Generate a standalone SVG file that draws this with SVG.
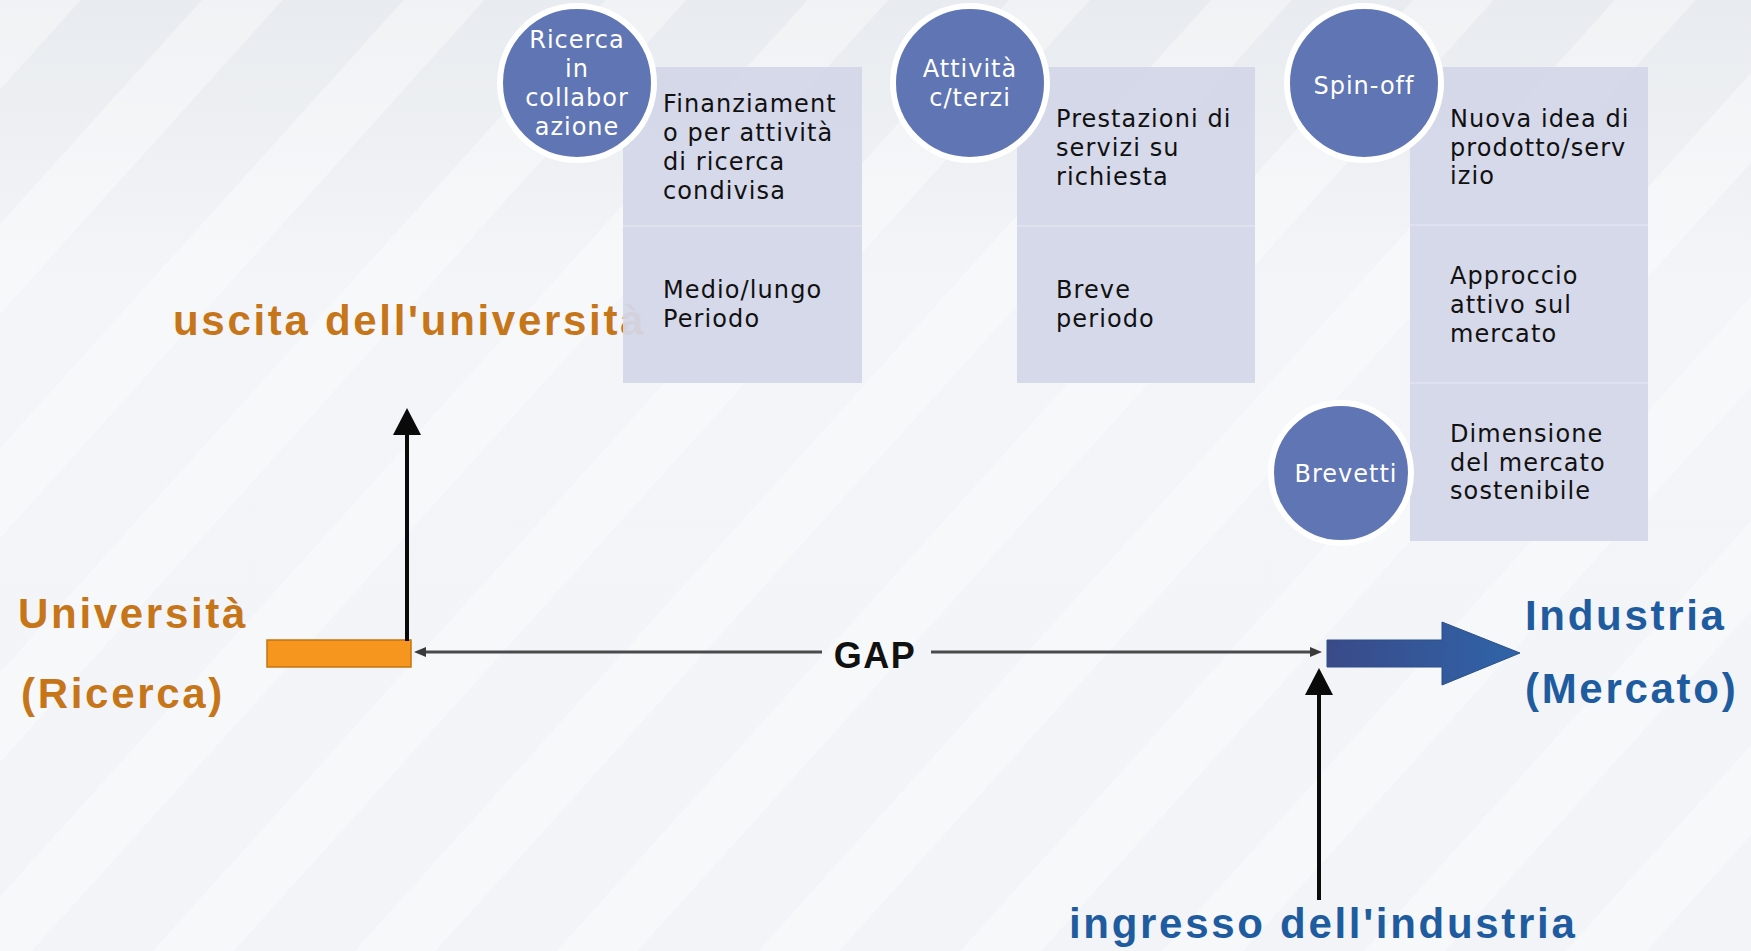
<svg xmlns="http://www.w3.org/2000/svg" width="1751" height="951" viewBox="0 0 1751 951">
<defs>
<style>
.circ{fill:#6075b3;stroke:#ffffff;stroke-width:6}
.ctext{font-family:"DejaVu Sans",Verdana,sans-serif;font-size:24px;fill:#ffffff;letter-spacing:1px;text-anchor:middle}
.box{fill:#d3d7e8;fill-opacity:0.94}
.div{stroke:#dfe2ee;stroke-width:2}
.btext{font-family:"DejaVu Sans",Verdana,sans-serif;font-size:24px;fill:#111111;letter-spacing:1.1px}
.big{font-family:"Liberation Sans",Arial,sans-serif;font-weight:bold;font-size:42px;letter-spacing:2.7px}
.orange{fill:#c67619}
.blue{fill:#1e5c9f}
.blk{stroke:#0a0a0a;stroke-width:4;fill:none}
.gap{stroke:#4a4a4a;stroke-width:3;fill:none}
</style>
<linearGradient id="bgGrad" x1="0" y1="0" x2="0" y2="1">
<stop offset="0" stop-color="#e8ebef"/>
<stop offset="0.3" stop-color="#f3f5f8"/>
<stop offset="1" stop-color="#f2f4f7"/>
</linearGradient>
<pattern id="stripes" width="150" height="150" patternUnits="userSpaceOnUse" patternTransform="rotate(42)">
<rect x="0" y="0" width="60" height="150" fill="#ffffff" fill-opacity="0.35"/>
</pattern>
<linearGradient id="blueArrow" x1="0" y1="0" x2="1" y2="0">
<stop offset="0" stop-color="#3a4a88"/>
<stop offset="1" stop-color="#2f64a9"/>
</linearGradient>
<marker id="bigHead" markerUnits="userSpaceOnUse" markerWidth="28" markerHeight="28" refX="4" refY="14" orient="auto">
<path d="M0,0 L27,14 L0,28 z" fill="#0a0a0a"/>
</marker>
<marker id="smallHead" markerUnits="userSpaceOnUse" markerWidth="12" markerHeight="10" refX="2" refY="5" orient="auto">
<path d="M0,0 L12,5 L0,10 z" fill="#3a3a3a"/>
</marker>
</defs>

<rect x="0" y="0" width="1751" height="951" fill="url(#bgGrad)"/>
<rect x="0" y="0" width="1751" height="951" fill="url(#stripes)"/>

<g id="label-uscita">
<text class="big orange" x="173" y="335">uscita dell'università</text>
</g>

<g id="box-ricerca">
<rect class="box" x="623" y="67" width="239" height="316"/>
<line class="div" x1="623" y1="226" x2="862" y2="226"/>
<text class="btext" x="663" y="112">Finanziament</text>
<text class="btext" x="663" y="141">o per attività</text>
<text class="btext" x="663" y="170">di ricerca</text>
<text class="btext" x="663" y="199">condivisa</text>
<text class="btext" x="663" y="298">Medio/lungo</text>
<text class="btext" x="663" y="327">Periodo</text>
</g>
<g id="node-ricerca">
<circle class="circ" cx="577" cy="83" r="77"/>
<text class="ctext" x="577" y="48">Ricerca</text>
<text class="ctext" x="577" y="77">in</text>
<text class="ctext" x="577" y="106">collabor</text>
<text class="ctext" x="577" y="135">azione</text>
</g>

<g id="box-attivita">
<rect class="box" x="1017" y="67" width="238" height="316"/>
<line class="div" x1="1017" y1="226" x2="1255" y2="226"/>
<text class="btext" x="1056" y="127">Prestazioni di</text>
<text class="btext" x="1056" y="156">servizi su</text>
<text class="btext" x="1056" y="185">richiesta</text>
<text class="btext" x="1056" y="298">Breve</text>
<text class="btext" x="1056" y="327">periodo</text>
</g>
<g id="node-attivita">
<circle class="circ" cx="970" cy="83" r="77"/>
<text class="ctext" x="970" y="77">Attività</text>
<text class="ctext" x="970" y="106">c/terzi</text>
</g>

<g id="box-spinoff">
<rect class="box" x="1410" y="67" width="238" height="474"/>
<line class="div" x1="1410" y1="225" x2="1648" y2="225"/>
<line class="div" x1="1410" y1="383" x2="1648" y2="383"/>
<text class="btext" x="1450" y="127">Nuova idea di</text>
<text class="btext" x="1450" y="156">prodotto/serv</text>
<text class="btext" x="1450" y="184">izio</text>
<text class="btext" x="1450" y="284">Approccio</text>
<text class="btext" x="1450" y="313">attivo sul</text>
<text class="btext" x="1450" y="342">mercato</text>
<text class="btext" x="1450" y="442">Dimensione</text>
<text class="btext" x="1450" y="471">del mercato</text>
<text class="btext" x="1450" y="499">sostenibile</text>
</g>
<g id="node-spinoff">
<circle class="circ" cx="1364" cy="83" r="77"/>
<text class="ctext" x="1364" y="94">Spin-off</text>
</g>
<g id="node-brevetti">
<circle class="circ" cx="1341" cy="473" r="70"/>
<text class="ctext" x="1346" y="482">Brevetti</text>
</g>

<g id="node-universita">
<rect x="267" y="640" width="144" height="27" fill="#f7961e" stroke="#c47412" stroke-width="1.5"/>
<text class="big orange" x="18" y="628">Università</text>
<text class="big orange" x="21" y="708">(Ricerca)</text>
</g>

<g id="node-industria">
<polygon points="1327,640 1442,640 1442,622 1520,653 1442,685 1442,667 1327,667" fill="url(#blueArrow)" stroke="#2b4f8a" stroke-width="1"/>
<text class="big blue" x="1525" y="630">Industria</text>
<text class="big blue" x="1525" y="703">(Mercato)</text>
</g>

<g id="label-ingresso">
<text class="big blue" x="1069" y="938">ingresso dell'industria</text>
</g>

<g id="connectors">
<line class="blk" x1="407" y1="641" x2="407" y2="431" marker-end="url(#bigHead)"/>
<line class="blk" x1="1319" y1="900" x2="1319" y2="691" marker-end="url(#bigHead)"/>
<line class="gap" x1="822" y1="652" x2="424" y2="652" marker-end="url(#smallHead)"/>
<line class="gap" x1="931" y1="652" x2="1312" y2="652" marker-end="url(#smallHead)"/>
<text x="875" y="668" font-family="Liberation Sans, Arial, sans-serif" font-weight="bold" font-size="36" letter-spacing="1.5" fill="#111111" text-anchor="middle">GAP</text>
</g>
</svg>
